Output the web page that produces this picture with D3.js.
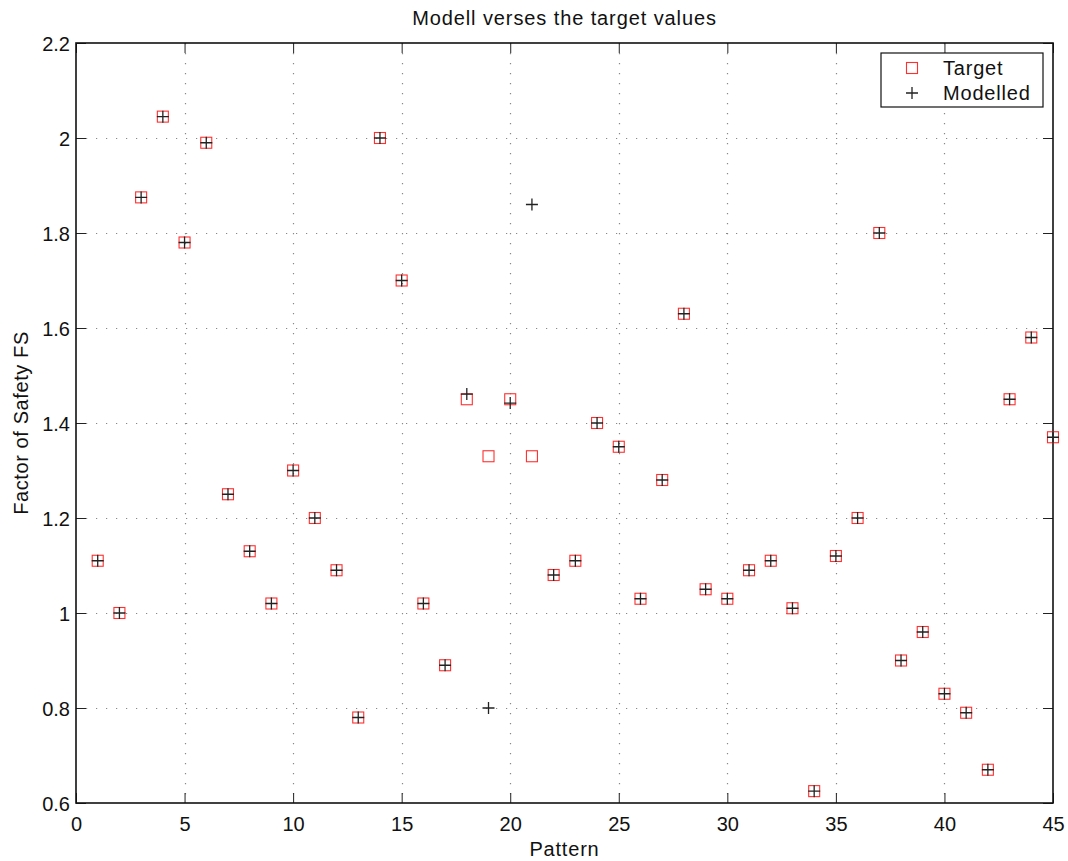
<!DOCTYPE html>
<html><head><meta charset="utf-8">
<script src="https://cdn.jsdelivr.net/npm/d3@7"></script>
<style>
html,body{margin:0;padding:0;background:#fff;}
svg{display:block;font-family:"Liberation Sans","Helvetica",Arial,sans-serif;}
</style></head>
<body>
<svg id="chart" width="1068" height="861"></svg>
<script>
const patterns = d3.range(1, 46);
const targetValues = [1.11,1.00,1.875,2.045,1.78,1.99,1.25,1.13,1.02,1.30,1.20,1.09,0.78,2.00,1.70,1.02,0.89,1.45,1.33,1.45,1.33,1.08,1.11,1.40,1.35,1.03,1.28,1.63,1.05,1.03,1.09,1.11,1.01,0.625,1.12,1.20,1.80,0.90,0.96,0.83,0.79,0.67,1.45,1.58,1.37];
const modelledValues = [1.11,1.00,1.875,2.045,1.78,1.99,1.25,1.13,1.02,1.30,1.20,1.09,0.78,2.00,1.70,1.02,0.89,1.461,0.80,1.442,1.86,1.08,1.11,1.40,1.35,1.03,1.28,1.63,1.05,1.03,1.09,1.11,1.01,0.625,1.12,1.20,1.80,0.90,0.96,0.83,0.79,0.67,1.45,1.58,1.37];
const xTicks = [0,5,10,15,20,25,30,35,40,45];
const yTicks = [0.6,0.8,1,1.2,1.4,1.6,1.8,2,2.2];
const titleText = "Modell verses the target values";
const xLabel = "Pattern";
const yLabel = "Factor of Safety FS";
const legendLabels = ["Target", "Modelled"];

const svg = d3.select("#chart");
const L = 76, R = 1053, T = 43, B = 803;
const x = d3.scaleLinear().domain([0,45]).range([L,R]);
const y = d3.scaleLinear().domain([0.6,2.2]).range([B,T]);

// grid
const grid = svg.append("g").attr("stroke","#888").attr("stroke-width",1.2).attr("stroke-dasharray","1.2,8.8");
grid.selectAll("line.gx").data(xTicks.slice(1,-1)).join("line")
  .attr("x1",d=>Math.round(x(d))+0.5).attr("x2",d=>Math.round(x(d))+0.5).attr("y1",T).attr("y2",B);
grid.selectAll("line.gy").data(yTicks.slice(1,-1)).join("line")
  .attr("y1",d=>Math.round(y(d))+0.5).attr("y2",d=>Math.round(y(d))+0.5).attr("x1",L).attr("x2",R);

// axes
const fmt = d => d3.format("")(d);
const xAxisB = d3.axisBottom(x).tickValues(xTicks).tickSize(-10).tickPadding(14).tickFormat(fmt);
const xAxisT = d3.axisTop(x).tickValues(xTicks).tickSize(-10).tickFormat("");
const yAxisL = d3.axisLeft(y).tickValues(yTicks).tickSize(-10).tickPadding(6).tickFormat(fmt);
const yAxisR = d3.axisRight(y).tickValues(yTicks).tickSize(-10).tickFormat("");
function style(g){
  g.select(".domain").remove();
  g.selectAll(".tick line").attr("stroke","#222").attr("stroke-width",1);
  g.selectAll(".tick text").attr("fill","#111").attr("font-size",20).attr("font-family","Liberation Sans, Helvetica, Arial, sans-serif");
}
svg.append("g").attr("transform",`translate(0,${B})`).call(xAxisB).call(style);
svg.append("g").attr("transform",`translate(0,${T})`).call(xAxisT).call(style);
svg.append("g").attr("transform",`translate(${L},0)`).call(yAxisL).call(style)
  .selectAll(".tick text").attr("dy","0.36em");
svg.append("g").attr("transform",`translate(${R},0)`).call(yAxisR).call(style);

// frame
svg.append("rect").attr("x",L).attr("y",T).attr("width",R-L).attr("height",B-T)
  .attr("fill","none").attr("stroke","#111").attr("stroke-width",1.6);

// target squares
const s = 11;
svg.append("g").selectAll("rect").data(patterns).join("rect")
  .attr("x",(d,i)=>x(d)-s/2).attr("y",(d,i)=>y(targetValues[i])-s/2)
  .attr("width",s).attr("height",s).attr("fill","none").attr("stroke","#ff3030").attr("stroke-width",1.1);

// modelled plus
const p = 6;
const pg = svg.append("g").attr("stroke","#222").attr("stroke-width",1.3);
pg.selectAll("path").data(patterns).join("path")
  .attr("d",(d,i)=>{const cx=x(d), cy=y(modelledValues[i]); return `M${cx-p},${cy}H${cx+p}M${cx},${cy-p}V${cy+p}`;});

// title and labels
svg.append("text").attr("x",(L+R)/2).attr("y",25).attr("text-anchor","middle")
  .attr("font-size",20).attr("letter-spacing","0.9px").attr("fill","#111").text(titleText);
svg.append("text").attr("x",(L+R)/2).attr("y",856).attr("text-anchor","middle")
  .attr("font-size",20).attr("letter-spacing","0.8px").attr("fill","#111").text(xLabel);
svg.append("text").attr("transform",`translate(28,${(T+B)/2}) rotate(-90)`).attr("text-anchor","middle")
  .attr("font-size",20).attr("letter-spacing","0.6px").attr("fill","#111").text(yLabel);

// legend
const lg = svg.append("g");
lg.append("rect").attr("x",881).attr("y",53).attr("width",162).attr("height",54)
  .attr("fill","#fff").attr("stroke","#111").attr("stroke-width",1.2);
lg.append("rect").attr("x",912-s/2).attr("y",68-s/2).attr("width",s).attr("height",s)
  .attr("fill","none").attr("stroke","#ff3030").attr("stroke-width",1.1);
lg.append("path").attr("d",`M${912-p},93H${912+p}M912,${93-p}V${93+p}`).attr("stroke","#222").attr("stroke-width",1.3);
lg.selectAll("text").data(legendLabels).join("text")
  .attr("x",943).attr("y",(d,i)=>68+i*25).attr("dy","0.36em")
  .attr("font-size",20).attr("letter-spacing","0.8px").attr("fill","#111").text(d=>d);
</script>
</body></html>
